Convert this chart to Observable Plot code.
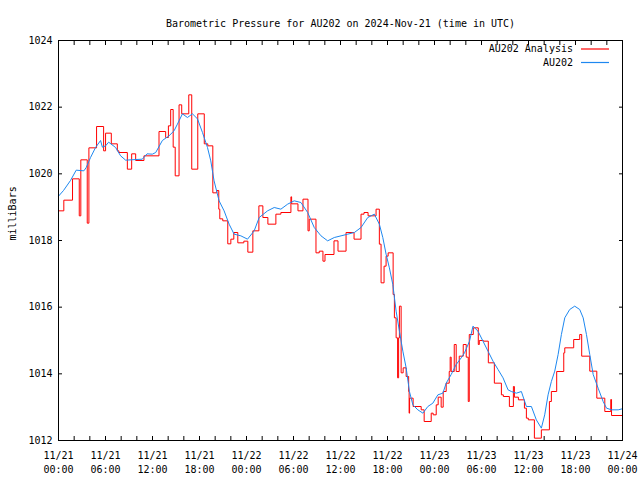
<!DOCTYPE html>
<html><head><meta charset="utf-8">
<script src="https://cdn.jsdelivr.net/npm/d3@7"></script>
<script src="https://cdn.jsdelivr.net/npm/@observablehq/plot@0.6"></script>
<style>body{margin:0;background:#fff} svg{display:block}</style>
</head><body><div id="chart"></div>
<script>
const title = "Barometric Pressure for AU202 on 2024-Nov-21 (time in UTC)";
const yLabel = "milliBars";
const seriesNames = ["AU202 Analysis", "AU202"];
const seriesColors = ["#ff0000", "#1e88f0"];
const startTime = "2024-11-21T00:00:00Z";
const endTime = "2024-11-24T00:00:00Z";
const yTicks = [1012, 1014, 1016, 1018, 1020, 1022, 1024];

// Red "AU202 Analysis" (hours since start, mbar) - step series
const analysisHours = [0,0.68,1.79,2.65,2.85,3.67,3.88,4.86,5.76,6.01,6.74,7.51,7.71,8.79,9.34,9.85,10.91,12.83,13.68,14.03,14.32,14.64,14.90,15.39,15.73,16.63,17.01,17.78,18.61,19.06,19.70,20.21,20.46,20.59,20.97,21.61,22.0,22.38,22.89,23.66,24.17,24.81,25.58,26.09,26.73,27.75,28.39,29.67,29.76,30.57,31.21,31.85,32.01,32.87,33.29,33.76,34.02,35.17,35.68,36.71,37.73,38.62,39.0,39.52,40.54,40.96,41.18,41.56,41.82,42.08,42.72,42.88,43.10,43.29,43.42,43.52,43.74,44.0,44.38,44.70,44.76,44.82,45.27,46.30,46.68,47.58,47.83,48.22,48.47,48.85,49.11,49.49,49.88,50.0,50.13,50.52,50.77,51.16,51.67,52.05,52.31,52.44,52.95,53.59,53.72,54.23,54.87,55.64,56.54,56.79,57.56,58.07,58.2,58.71,59.48,59.73,59.98,60.75,61.64,62.67,62.92,63.6,64.5,64.63,65.77,66.54,66.79,67.82,68.72,69.74,70.5,70.6,72];
const analysisValues = [1018.89,1019.21,1019.85,1018.74,1020.42,1018.52,1020.78,1021.42,1020.69,1021.22,1020.9,1020.69,1020.64,1020.14,1020.6,1020.4,1020.54,1021.27,1021.09,1021.44,1021.93,1020.8,1019.94,1022.07,1021.8,1022.37,1020.14,1021.8,1020.9,1020.84,1019.43,1019.5,1018.94,1018.65,1018.59,1017.9,1018.04,1018.24,1017.93,1017.98,1017.65,1018.29,1019.04,1018.69,1018.49,1018.79,1018.84,1019.31,1019.1,1018.89,1019.24,1018.29,1018.64,1017.63,1017.68,1017.38,1017.58,1017.99,1017.68,1018.24,1018.04,1018.79,1018.84,1018.74,1018.94,1017.89,1016.73,1017.23,1017.53,1017.63,1016.38,1015.68,1015.08,1013.88,1015.08,1016.03,1014.03,1014.18,1013.92,1013.47,1012.82,1013.27,1013.02,1012.92,1012.57,1012.82,1012.77,1013.07,1013.3,1013.0,1013.47,1013.72,1014.07,1014.5,1014.07,1014.88,1014.07,1014.53,1014.88,1014.5,1013.17,1015.18,1015.38,1014.88,1015.0,1014.98,1014.33,1013.72,1013.37,1013.32,1013.02,1013.62,1013.3,1013.22,1012.97,1012.67,1012.62,1012.07,1012.32,1013.17,1013.47,1014.07,1014.63,1014.78,1015.03,1015.18,1014.53,1014.08,1013.27,1012.87,1013.23,1012.75,1012.75];

// Blue "AU202" observations (hours since start, mbar)
const obsHours = [0.04,0.64,1.53,2.26,3.24,3.54,4.09,4.73,5.37,5.6,6.01,6.4,7.29,7.93,8.57,10.70,11.3,11.98,12.41,13.26,14.11,14.75,15.18,15.82,16.46,17.10,17.74,18.38,19.02,19.44,19.86,20.50,21.14,21.78,22.42,23.28,24.13,24.98,25.62,26.69,27.54,28.39,29.25,30.09,30.95,31.81,32.65,33.51,34.36,35.21,36.07,36.92,37.77,38.62,39.48,40.32,40.96,41.40,41.82,42.24,42.68,43.10,43.52,43.96,44.38,44.80,45.24,45.87,46.52,47.15,47.79,48.43,49.07,49.49,50.13,50.77,51.41,51.83,52.47,52.91,53.55,54.19,54.83,55.47,56.11,56.75,57.39,57.81,58.45,59.09,59.73,60.37,61.0,61.64,62.07,62.5,62.92,63.35,63.78,64.20,64.63,65.26,65.90,66.54,66.98,67.40,67.82,68.26,68.89,69.53,69.96,70.60,71.45,71.96];
const obsValues = [1019.34,1019.5,1019.8,1020.11,1020.09,1020.19,1020.49,1020.79,1021.0,1020.8,1020.84,1020.95,1020.79,1020.54,1020.41,1020.44,1020.6,1020.59,1020.64,1021.0,1021.14,1021.29,1021.49,1021.8,1021.69,1021.8,1021.65,1021.24,1020.79,1020.39,1019.79,1019.19,1018.89,1018.49,1018.19,1018.14,1018.04,1018.29,1018.69,1018.89,1018.99,1018.94,1019.09,1019.19,1019.14,1018.84,1018.39,1018.14,1017.99,1018.09,1018.14,1018.19,1018.24,1018.39,1018.69,1018.79,1018.49,1018.09,1017.59,1017.18,1016.68,1015.88,1015.28,1014.68,1014.18,1013.47,1013.07,1012.92,1012.82,1013.02,1013.12,1013.37,1013.42,1013.72,1013.98,1014.28,1014.48,1014.63,1014.98,1015.43,1015.28,1014.98,1014.68,1014.38,1014.13,1013.88,1013.52,1013.47,1013.42,1013.47,1013.02,1013.02,1012.62,1012.37,1012.77,1013.37,1013.77,1014.08,1014.58,1015.18,1015.68,1015.93,1016.03,1015.93,1015.68,1015.18,1014.58,1013.98,1013.57,1013.17,1012.97,1012.92,1012.92,1012.95];

const t0 = new Date(startTime), t1 = new Date(endTime);
const toDate = h => new Date(t0.getTime() + h * 3600e3);
const analysis = analysisHours.map((h, i) => ({t: toDate(h), v: analysisValues[i]}));
const obs = obsHours.map((h, i) => ({t: toDate(h), v: obsValues[i]}));
const minorTicks = d3.utcHour.every(2).range(t0, new Date(t1.getTime() + 1));
const labelTicks = d3.utcHour.every(6).range(t0, new Date(t1.getTime() + 1));
const fmt = d => d3.utcFormat("%m/%d")(d) + "\n" + d3.utcFormat("%H:%M")(d);

const legend = (index, scales, values, dims) => {
  const g = d3.create("svg:g").attr("font-size", 10);
  const right = dims.width - dims.marginRight;
  const top = dims.marginTop;
  seriesNames.forEach((name, i) => {
    const y = top + 9 + i * 13.5;
    g.append("text").attr("x", right - 49).attr("y", y).attr("dy", "0.32em")
      .attr("text-anchor", "end").attr("fill", "black").text(name);
    g.append("line").attr("x1", right - 41).attr("x2", right - 13)
      .attr("y1", y).attr("y2", y)
      .attr("stroke", seriesColors[i]).attr("stroke-width", 1.2);
  });
  return g.node();
};

const chart = Plot.plot({
  width: 640, height: 480,
  marginLeft: 58, marginRight: 18, marginTop: 40, marginBottom: 40,
  style: {fontFamily: "'DejaVu Sans Mono', monospace", fontSize: "10px", background: "white", color: "black"},
  x: {type: "utc", domain: [t0, t1], axis: null},
  y: {domain: [1012, 1024], axis: null},
  marks: [
    Plot.line(analysis, {x: "t", y: "v", stroke: seriesColors[0], strokeWidth: 1, curve: "step-after"}),
    Plot.line(obs, {x: "t", y: "v", stroke: seriesColors[1], strokeWidth: 1}),
    Plot.frame({stroke: "black", strokeWidth: 1}),
    Plot.axisX(minorTicks, {anchor: "bottom", tickSize: -4, tickFormat: () => "", label: null}),
    Plot.axisX(minorTicks, {anchor: "top", tickSize: -4, tickFormat: () => "", label: null}),
    Plot.axisY(yTicks, {anchor: "left", tickSize: -4, tickFormat: () => "", label: null}),
    Plot.axisY(yTicks, {anchor: "right", tickSize: -4, tickFormat: () => "", label: null}),
    Plot.text(labelTicks, {x: d => d, text: fmt, frameAnchor: "bottom", lineAnchor: "top", dy: 9, lineHeight: 1.4, fill: "black"}),
    Plot.text(yTicks, {y: d => d, text: d => String(d), frameAnchor: "left", textAnchor: "end", dx: -6, fill: "black"}),
    Plot.text([title], {frameAnchor: "top", dy: -21, fill: "black"}),
    Plot.text([yLabel], {frameAnchor: "left", rotate: -90, dx: -46, fill: "black"}),
    legend
  ]
});
document.getElementById("chart").appendChild(chart);
</script>
</body></html>
